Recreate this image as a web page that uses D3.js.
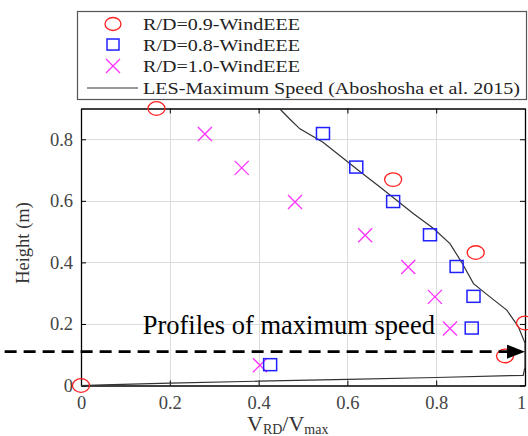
<!DOCTYPE html>
<html>
<head>
<meta charset="utf-8">
<script src="https://cdn.jsdelivr.net/npm/d3@7"></script>
<style>
  body { margin: 0; background: #fff; }
  svg { display: block; font-family: "Liberation Serif", "Times New Roman", serif; }
  svg text { font-family: "Liberation Serif", "Times New Roman", serif; }
</style>
</head>
<body>
<svg id="chart" width="528" height="436"></svg>
<script>
// values
const xTicks = [0, 0.2, 0.4, 0.6, 0.8, 1]
const yTicks = [0, 0.2, 0.4, 0.6, 0.8]

const rd09 = [[0, 0], [0.17, 0.9], [0.703, 0.669], [0.889, 0.432], [1.0, 0.203], [0.955, 0.096]]
const rd08 = [[0.545, 0.817], [0.62, 0.708], [0.703, 0.596], [0.786, 0.488], [0.846, 0.385],
  [0.884, 0.288], [0.88, 0.185], [0.426, 0.066]]
const rd10 = [[0.279, 0.817], [0.362, 0.707], [0.482, 0.596], [0.64, 0.488], [0.737, 0.385],
  [0.797, 0.288], [0.831, 0.185], [0.403, 0.066]]
const les = [[0.447, 0.9], [0.47, 0.866], [0.493, 0.834], [0.545, 0.79], [0.628, 0.695], [0.674, 0.644],
  [0.749, 0.558], [0.794, 0.51], [0.831, 0.461], [0.857, 0.401], [0.884, 0.331], [0.921, 0.288],
  [0.959, 0.245], [0.985, 0.191], [1.0, 0.138], [1.0, 0.06], [0.996, 0.033], [0.8, 0.026],
  [0.6, 0.02], [0.4, 0.014], [0.2, 0.008], [0.05, 0.002], [0, 0]]

const legendItems = ["R/D=0.9-WindEEE", "R/D=0.8-WindEEE", "R/D=1.0-WindEEE",
  "LES-Maximum Speed (Aboshosha et al. 2015)"]
const arrowY = 0.11
const arrowFrom = -0.172
const noteText = "Profiles of maximum speed"

const svg = d3.select("#chart")
const plot = {left: 81, right: 525, top: 108.5, bottom: 385.5}

const x = d3.scaleLinear().domain([0, 1]).range([plot.left, plot.right])
const y = d3.scaleLinear().domain([0, 0.9]).range([plot.bottom, plot.top])

// grid
const grid = svg.append("g").attr("stroke", "#dcdcdc").attr("stroke-width", 1)
grid.selectAll(".gx").data(xTicks.slice(1, -1)).join("line")
  .attr("x1", d => Math.round(x(d)) + 0.5).attr("x2", d => Math.round(x(d)) + 0.5)
  .attr("y1", plot.top).attr("y2", plot.bottom)
grid.selectAll(".gy").data(yTicks.slice(1)).join("line")
  .attr("y1", d => Math.round(y(d)) + 0.5).attr("y2", d => Math.round(y(d)) + 0.5)
  .attr("x1", plot.left).attr("x2", plot.right)

// axes (ticks inward, box on)
const xAxis = d3.axisBottom(x).tickValues(xTicks).tickFormat(d3.format("")).tickSize(-5).tickSizeOuter(0).tickPadding(10)
const yAxis = d3.axisLeft(y).tickValues(yTicks).tickFormat(d3.format("")).tickSize(-5).tickSizeOuter(0).tickPadding(8)

function styleAxis(g) {
  g.attr("font-family", null)
  g.select(".domain").attr("stroke", "#000").attr("stroke-width", 1.3)
  g.selectAll(".tick line").attr("stroke", "#000")
  g.selectAll(".tick text").attr("fill", "#444").style("font-size", "18.5px")
}

const gx = svg.append("g").attr("transform", "translate(0," + plot.bottom + ")").call(xAxis).call(styleAxis)
gx.selectAll(".tick text").filter(d => d === 1).attr("dx", -4)
svg.append("g").attr("transform", "translate(0," + plot.top + ")")
  .call(d3.axisTop(x).tickValues(xTicks).tickFormat("").tickSize(-5).tickSizeOuter(0)).call(styleAxis)
svg.append("g").attr("transform", "translate(" + plot.left + ",0)").call(yAxis).call(styleAxis)
svg.append("g").attr("transform", "translate(" + plot.right + ",0)")
  .call(d3.axisRight(y).tickValues(yTicks).tickFormat("").tickSize(-5).tickSizeOuter(0)).call(styleAxis)

// LES line
const line = d3.line().x(d => x(d[0])).y(d => y(d[1]))
svg.append("path").datum(les).attr("d", line)
  .attr("fill", "none").attr("stroke", "#333").attr("stroke-width", 1.2)

// markers
function circleMark(g, rx, ry) {
  return g.append("ellipse").attr("rx", rx).attr("ry", ry)
    .attr("fill", "none").attr("stroke", "#ff2020").attr("stroke-width", 1.3)
}
function squareMark(g, s) {
  return g.append("rect").attr("x", -s / 2).attr("y", -s / 2).attr("width", s).attr("height", s * 0.92)
    .attr("fill", "none").attr("stroke", "#2020ff").attr("stroke-width", 1.5)
}
function crossMark(g, s) {
  return g.append("path").attr("d", `M${-s},${-s}L${s},${s}M${-s},${s}L${s},${-s}`)
    .attr("fill", "none").attr("stroke", "#ff30ff").attr("stroke-width", 1.3)
}

svg.selectAll(".m10").data(rd10).join("g")
  .attr("transform", d => `translate(${x(d[0])},${y(d[1])})`)
  .each(function () { crossMark(d3.select(this), 7) })
svg.selectAll(".m08").data(rd08).join("g")
  .attr("transform", d => `translate(${x(d[0])},${y(d[1])})`)
  .each(function () { squareMark(d3.select(this), 13) })
svg.selectAll(".m09").data(rd09).join("g")
  .attr("transform", d => `translate(${x(d[0])},${y(d[1])})`)
  .each(function () { circleMark(d3.select(this), 8.5, 6.8) })

// annotation
svg.append("text").attr("x", x(0.139)).attr("y", y(0.167))
  .style("font-size", "26.5px").attr("fill", "#000").text(noteText)

svg.append("line")
  .attr("x1", x(arrowFrom)).attr("x2", x(1) - 14)
  .attr("y1", y(arrowY)).attr("y2", y(arrowY))
  .attr("stroke", "#000").attr("stroke-width", 2.8).attr("stroke-dasharray", "12,7")
svg.append("path")
  .attr("d", `M${x(1) - 18},${y(arrowY) - 7}L${x(1)},${y(arrowY)}L${x(1) - 18},${y(arrowY) + 7}Z`)
  .attr("fill", "#000")

// labels
svg.append("text").attr("transform", "translate(29,243) rotate(-90)")
  .attr("text-anchor", "middle").style("font-size", "18.5px").attr("fill", "#333").text("Height (m)")

const xl = svg.append("text").attr("x", 247).attr("y", 431).attr("fill", "#333").style("font-size", "22px")
xl.append("tspan").text("V")
xl.append("tspan").attr("dy", 3).style("font-size", "14px").text("RD")
xl.append("tspan").attr("dy", -3).text("/V")
xl.append("tspan").attr("dy", 3).style("font-size", "14px").text("max")

// legend
const lg = svg.append("g")
lg.append("rect").attr("x", 77.5).attr("y", 11.5).attr("width", 449).attr("height", 88)
  .attr("fill", "#fff").attr("stroke", "#555").attr("stroke-width", 1.2)
const rows = [24, 45, 66, 88]
const rowWidths = [157, 157, 157, 377]
legendItems.forEach((t, i) => {
  lg.append("text").attr("x", 143).attr("y", rows[i] + 6)
    .attr("textLength", rowWidths[i]).attr("lengthAdjust", "spacingAndGlyphs")
    .style("font-size", "17px").attr("fill", "#222").text(t)
})
circleMark(lg.append("g").attr("transform", `translate(113,${rows[0]})`), 8, 6.5)
squareMark(lg.append("g").attr("transform", `translate(113,${rows[1]})`), 12)
crossMark(lg.append("g").attr("transform", `translate(113,${rows[2]})`), 7)
lg.append("line").attr("x1", 87).attr("x2", 138).attr("y1", rows[3]).attr("y2", rows[3])
  .attr("stroke", "#333").attr("stroke-width", 1.2)
</script>
</body>
</html>
